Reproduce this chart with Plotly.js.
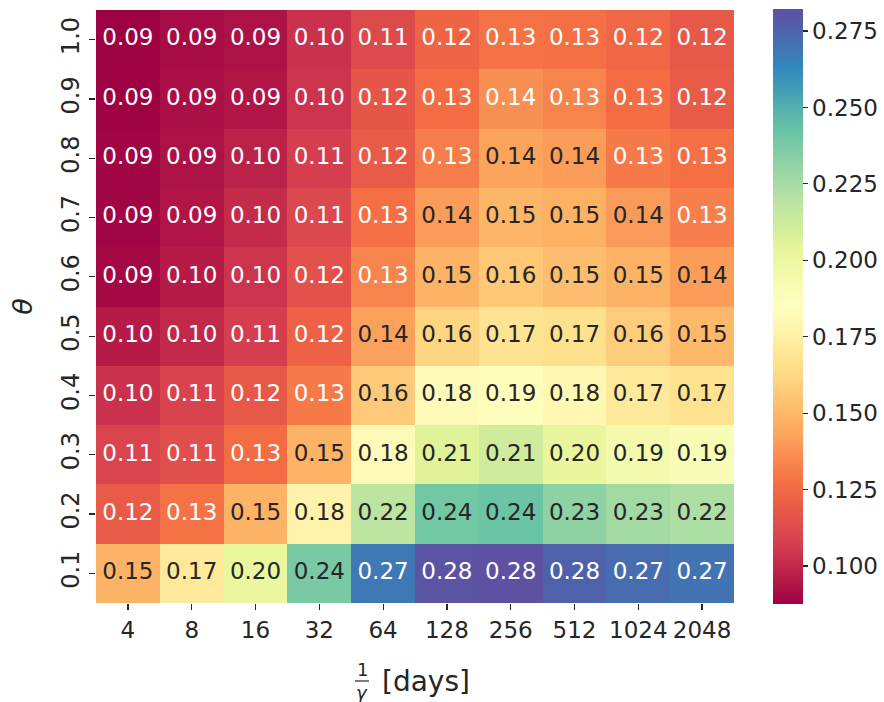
<!DOCTYPE html>
<html>
<head>
<meta charset="utf-8">
<script src="https://cdn.plot.ly/plotly-3.0.1.min.js"></script>
<style>html,body{margin:0;padding:0;background:#fff;}#chart{width:884px;height:702px;}</style>
</head>
<body>
<div id="chart"></div>
<script>
// x categories: 1/gamma [days]
const gammaInv = ['4','8','16','32','64','128','256','512','1024','2048'];
// y categories: theta (bottom to top)
const theta = ['0.1','0.2','0.3','0.4','0.5','0.6','0.7','0.8','0.9','1.0'];
// values, one array per theta row (labels are 2-decimal)
const row01 = [0.148, 0.171, 0.201, 0.238, 0.268, 0.281, 0.282, 0.276, 0.272, 0.270];
const row02 = [0.119, 0.128, 0.148, 0.177, 0.218, 0.240, 0.242, 0.232, 0.226, 0.223];
const row03 = [0.110, 0.114, 0.126, 0.148, 0.182, 0.206, 0.212, 0.202, 0.194, 0.190];
const row04 = [0.103, 0.109, 0.118, 0.130, 0.157, 0.182, 0.186, 0.180, 0.171, 0.167];
const row05 = [0.096, 0.100, 0.107, 0.122, 0.142, 0.161, 0.168, 0.166, 0.158, 0.150];
const row06 = [0.090, 0.096, 0.104, 0.115, 0.133, 0.148, 0.156, 0.152, 0.148, 0.141];
const row07 = [0.089, 0.094, 0.101, 0.111, 0.127, 0.141, 0.149, 0.147, 0.140, 0.132];
const row08 = [0.089, 0.093, 0.098, 0.107, 0.119, 0.131, 0.143, 0.141, 0.130, 0.127];
const row09 = [0.088, 0.092, 0.094, 0.104, 0.117, 0.126, 0.137, 0.133, 0.126, 0.119];
const row10 = [0.0876, 0.091, 0.093, 0.103, 0.112, 0.123, 0.128, 0.127, 0.124, 0.118];
const z = [row01,row02,row03,row04,row05,row06,row07,row08,row09,row10];
const colorTicks = [0.100, 0.125, 0.150, 0.175, 0.200, 0.225, 0.250, 0.275];

const spectral = ['#9e0142','#d53e4f','#f46d43','#fdae61','#fee08b','#ffffbf','#e6f598','#abdda4','#66c2a5','#3288bd','#5e4fa2'];
const colorscale = spectral.map((c,i)=>[i/(spectral.length-1), c]);
const zmin = 0.0876, zmax = 0.2822;

// cell label positions / colours (dark text on light cells, white on dark)
const tx=[], ty=[], tt=[], tc=[];
z.forEach((row,i)=>row.forEach((v,j)=>{
  tx.push(gammaInv[j]); ty.push(theta[i]); tt.push(v.toFixed(2));
  tc.push((v>0.1395 && v<0.255) ? '#262626' : '#ffffff');
}));

const font = {family:'DejaVu Sans, sans-serif', color:'#262626'};
const data = [
  {type:'heatmap', x:gammaInv, y:theta, z:z, colorscale:colorscale, zmin:zmin, zmax:zmax,
   hoverinfo:'skip',
   colorbar:{x:1.061, xanchor:'left', xpad:0, y:0.5, yanchor:'middle', len:1.003, ypad:0,
     thickness:30, outlinewidth:0, tickvals:colorTicks, ticktext:colorTicks.map(v=>v.toFixed(3)),
     ticks:'outside', ticklen:5, tickwidth:1.2, tickcolor:'#262626',
     tickfont:{family:font.family, color:font.color, size:23}}},
  {type:'scatter', mode:'text', x:tx, y:ty, text:tt, textposition:'middle center',
   textfont:{family:font.family, size:23, color:tc}, hoverinfo:'skip', showlegend:false}
];

const layout = {
  width:884, height:702,
  margin:{l:96, r:150, t:10, b:99, autoexpand:false},
  paper_bgcolor:'#ffffff', plot_bgcolor:'#ffffff',
  font:font,
  showlegend:false,
  xaxis:{type:'category', categoryarray:gammaInv, showgrid:false, zeroline:false, showline:false,
    ticks:'outside', ticklen:6, tickwidth:1.2, tickcolor:'#262626', tickangle:0,
    tickfont:{family:font.family, size:23, color:font.color}, range:[-0.5,9.5]},
  yaxis:{type:'category', categoryarray:theta, showgrid:false, zeroline:false, showline:false,
    ticks:'outside', ticklen:6, tickwidth:1.2, tickcolor:'#262626', tickangle:-90,
    tickfont:{family:font.family, size:24, color:font.color}, range:[-0.5,9.5],
    title:{text:'<i>θ</i>', font:{family:font.family, size:27, color:font.color}, standoff:16}},
  annotations:[
    {xref:'paper', yref:'paper', x:(362-96)/638, y:(603-669)/593, xanchor:'center', yanchor:'middle',
     text:'1', showarrow:false, font:{family:font.family, size:18, color:font.color}},
    {xref:'paper', yref:'paper', x:(362-96)/638, y:(603-692)/593, xanchor:'center', yanchor:'middle',
     text:'<i>γ</i>', showarrow:false, font:{family:font.family, size:18, color:font.color}},
    {xref:'paper', yref:'paper', x:(380-96)/638, y:(603-681)/593, xanchor:'left', yanchor:'middle',
     text:'[days]', showarrow:false, font:{family:font.family, size:28, color:font.color}}
  ],
  shapes:[
    {type:'line', xref:'paper', yref:'paper', x0:(355-96)/638, x1:(369-96)/638, y0:(603-681)/593, y1:(603-681)/593,
     line:{color:'#262626', width:1.2}}
  ]
};
Plotly.newPlot('chart', data, layout, {displayModeBar:false, staticPlot:true});
</script>
</body>
</html>
